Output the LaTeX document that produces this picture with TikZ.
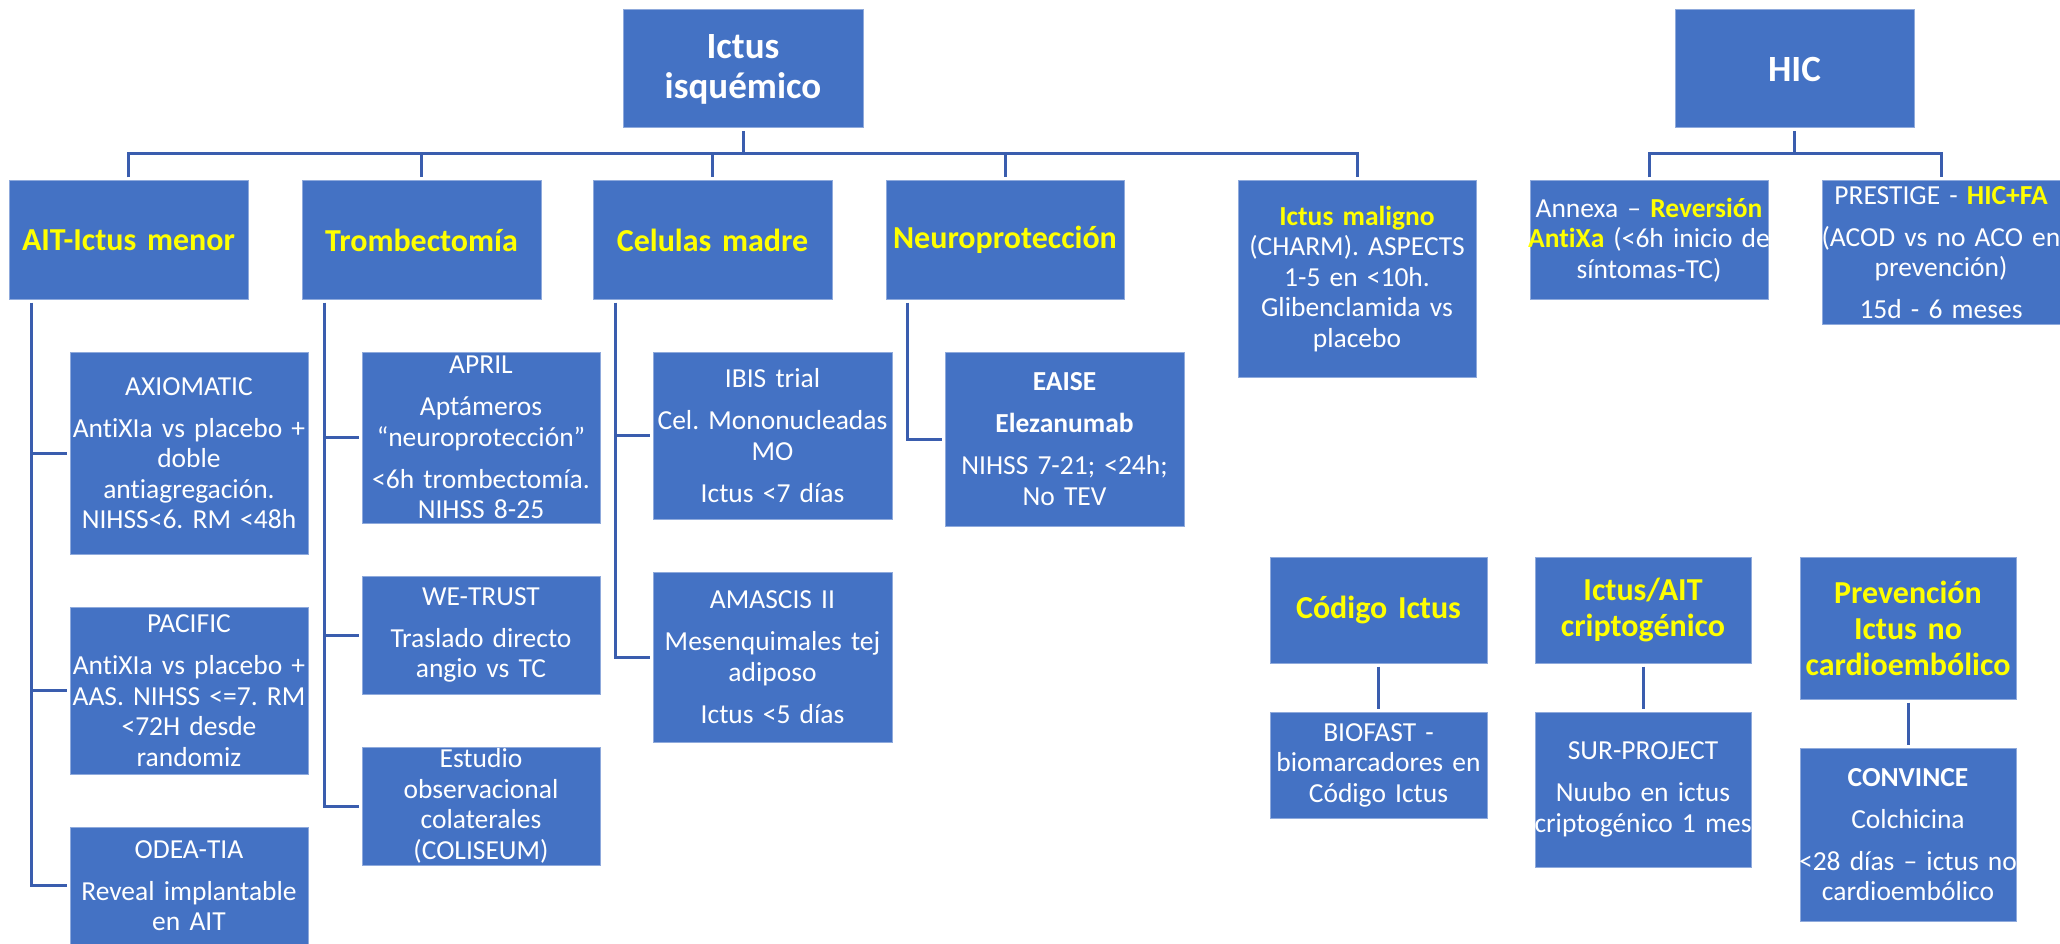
\documentclass[tikz,border=0pt]{standalone}
\usepackage{fontspec}
\setmainfont{Carlito}[Ligatures=NoCommon]
\frenchspacing
\definecolor{boxblue}{HTML}{4472C4}
\definecolor{boxedge}{HTML}{8FAADC}
\definecolor{connblue}{HTML}{3A5DAE}
\definecolor{hiyellow}{HTML}{FFFF00}
\newcommand\yb[1]{{\bfseries\color{hiyellow}#1}}
\newcommand\pg{\\[11.5pt]}
\tikzset{
  boxsty/.style={fill=boxblue, draw=boxedge, line width=1pt, inner sep=0pt},
  txtsty/.style={align=center, text=white, inner sep=0pt, font=\fontsize{27.5}{30.5}\selectfont\frenchspacing},
  headsty/.style={font=\fontsize{32}{36}\selectfont\bfseries, text=hiyellow},
  topsty/.style={font=\fontsize{37}{40}\selectfont\bfseries},
  conn/.style={draw=connblue, line width=3pt},
}
\newcommand\mybox[7][]{%
  \pgfmathsetmacro\bxcx{(#3+#5)/2}%
  \pgfmathsetmacro\bxcy{(#4+#6)/2}%
  \pgfmathsetmacro\bxw{#5-#3}%
  \pgfmathsetmacro\bxh{#6-#4}%
  \pgfmathsetmacro\bxtw{#5-#3+40}%
  \node[boxsty, minimum width=\bxw pt, minimum height=\bxh pt] (#2) at (\bxcx,\bxcy) {};%
  \node[txtsty,#1, text width=\bxtw pt] (#2-t) at (#2.center) {#7};%
}
\begin{document}
\begin{tikzpicture}[x=1pt,y=-1pt]
\useasboundingbox (0,0) rectangle (2060,944);
% top level
\mybox[topsty]{ictus}{623}{10}{863}{128}{Ictus\\isquémico}
\mybox[topsty]{hic}{1675}{10}{1914}{128}{HIC}
% second level
\mybox[headsty]{ait}{9}{181}{248}{299}{AIT-Ictus menor}
\mybox[headsty]{tromb}{302}{181}{541}{299}{Trombectomía}
\mybox[headsty]{cel}{593}{181}{832}{299}{Celulas madre}
\mybox[headsty]{neuro}{886}{181}{1124}{299}{Neuroprotección}
\mybox{maligno}{1238}{181}{1476}{377}{\yb{Ictus maligno}\\(CHARM). ASPECTS\\1-5 en <10h.\\Glibenclamida vs\\placebo}
\mybox{annexa}{1530}{181}{1768}{299}{Annexa – \yb{Reversión}\\\yb{AntiXa} (<6h inicio de\\síntomas-TC)}
\mybox{prestige}{1822}{181}{2060}{324}{PRESTIGE - \yb{HIC+FA}\pg(ACOD vs no ACO en\\prevención)\pg 15d - 6 meses}
% third level
\mybox{axiomatic}{70}{352}{308}{554}{AXIOMATIC\pg AntiXIa vs placebo +\\doble\\antiagregación.\\NIHSS<6. RM <48h}
\mybox{pacific}{70}{607}{308}{774}{PACIFIC\pg AntiXIa vs placebo +\\AAS. NIHSS <=7. RM\\<72H desde\\randomiz}
\mybox{odea}{70}{827}{308}{944}{ODEA-TIA\pg Reveal implantable\\en AIT}
\mybox{april}{362}{352}{600}{523}{APRIL\pg Aptámeros\\“neuroprotección”\pg <6h trombectomía.\\NIHSS 8-25}
\mybox{wetrust}{362}{576}{600}{694}{WE-TRUST\pg Traslado directo\\angio vs TC}
\mybox{estudio}{362}{747}{600}{865}{Estudio\\observacional\\colaterales\\(COLISEUM)}
\mybox{ibis}{653}{352}{892}{519}{IBIS trial\pg Cel. Mononucleadas\\MO\pg Ictus <7 días}
\mybox{amascis}{653}{572}{892}{742}{AMASCIS II\pg Mesenquimales tej\\adiposo\pg Ictus <5 días}
\mybox{eaise}{945}{352}{1184}{526}{\textbf{EAISE}\pg\textbf{Elezanumab}\pg NIHSS 7-21; <24h;\\No TEV}
% bottom right group
\mybox[headsty]{codigo}{1270}{557}{1487}{663}{Código Ictus}
\mybox{biofast}{1270}{712}{1487}{818}{BIOFAST -\\biomarcadores en\\Código Ictus}
\mybox[headsty]{cripto}{1535}{557}{1751}{663}{Ictus/AIT\\criptogénico}
\mybox{sur}{1535}{712}{1751}{867}{SUR-PROJECT\pg Nuubo en ictus\\criptogénico 1 mes}
\mybox[headsty]{prev}{1800}{557}{2016}{699}{Prevención\\Ictus no\\cardioembólico}
\mybox{convince}{1800}{748}{2016}{921}{\textbf{CONVINCE}\pg Colchicina\pg <28 días – ictus no\\cardioembólico}
% connectors: Ictus isquemico
\coordinate (bus1) at (0,154);
\draw[conn] ([yshift=-3pt]ictus.south) -- (ictus.south |- bus1);
\draw[conn] ([yshift=3pt]ait.north) -- (ait.north |- bus1) -- (maligno.north |- bus1) -- ([yshift=3pt]maligno.north);
\foreach \n in {tromb,cel,neuro}
  \draw[conn] (\n.north |- bus1) -- ([yshift=3pt]\n.north);
% connectors: HIC
\draw[conn] ([yshift=-3pt]hic.south) -- (hic.south |- bus1);
\draw[conn] ([yshift=3pt]annexa.north) -- (annexa.north |- bus1) -- (prestige.north |- bus1) -- ([yshift=3pt]prestige.north);
% AIT branch
\coordinate (aitv) at ([xshift=23pt,yshift=-3pt]ait.south west);
\draw[conn] (aitv) |- ([xshift=-3pt]odea.west);
\draw[conn] (aitv |- axiomatic.west) -- ([xshift=-3pt]axiomatic.west);
\draw[conn] (aitv |- pacific.west) -- ([xshift=-3pt]pacific.west);
% Trombectomia branch
\coordinate (trv) at ([xshift=22.5pt,yshift=-3pt]tromb.south west);
\draw[conn] (trv) |- ([xshift=-3pt]estudio.west);
\draw[conn] (trv |- april.west) -- ([xshift=-3pt]april.west);
\draw[conn] (trv |- wetrust.west) -- ([xshift=-3pt]wetrust.west);
% Celulas branch
\coordinate (cev) at ([xshift=23pt,yshift=-3pt]cel.south west);
\draw[conn] (cev) |- ([xshift=-3pt]amascis.west);
\draw[conn] (cev |- ibis.west) -- ([xshift=-3pt]ibis.west);
% Neuro branch
\coordinate (nev) at ([xshift=22pt,yshift=-3pt]neuro.south west);
\draw[conn] (nev) |- ([xshift=-3pt]eaise.west);
% bottom pairs
\draw[conn] ([yshift=-3pt]codigo.south) -- ([yshift=3pt]biofast.north);
\draw[conn] ([yshift=-3pt]cripto.south) -- ([yshift=3pt]sur.north);
\draw[conn] ([yshift=-3pt]prev.south) -- ([yshift=3pt]convince.north);
\end{tikzpicture}
\end{document}
